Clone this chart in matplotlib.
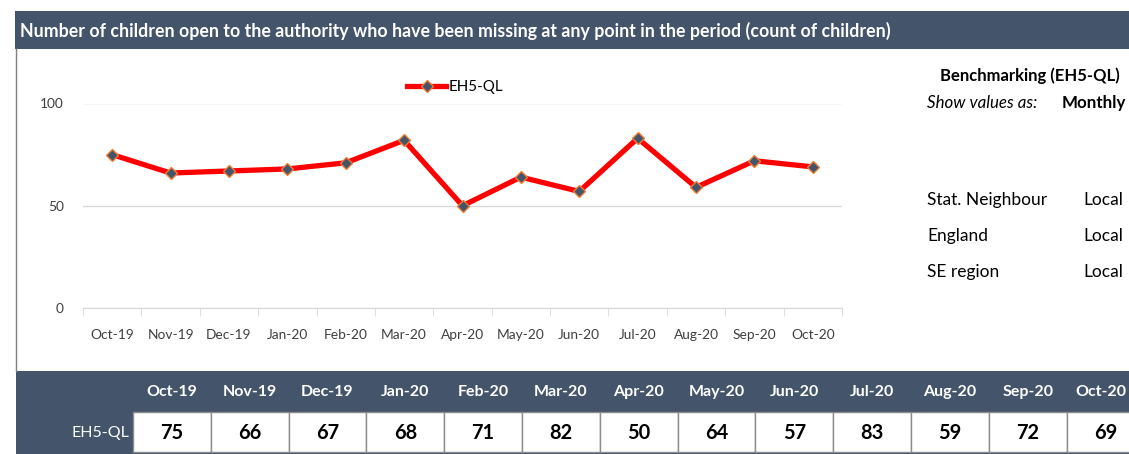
import matplotlib
matplotlib.use('Agg')
import matplotlib.pyplot as plt
from matplotlib.patches import Rectangle
from matplotlib.lines import Line2D

# data
months = ['Oct-19', 'Nov-19', 'Dec-19', 'Jan-20', 'Feb-20', 'Mar-20', 'Apr-20',
          'May-20', 'Jun-20', 'Jul-20', 'Aug-20', 'Sep-20', 'Oct-20']
eh5_ql = [75, 66, 67, 68, 71, 82, 50, 64, 57, 83, 59, 72, 69]
series_name = 'EH5-QL'
title = ('Number of children open to the authority who have been missing at any '
         'point in the period (count of children)')
bench_title = 'Benchmarking (EH5-QL)'
bench_rows = ['Stat. Neighbour', 'England', 'SE region']
bench_vals = ['Local', 'Local', 'Local']

plt.rcParams['font.family'] = ['Lato', 'DejaVu Sans']

W, H = 1129, 454
navy = '#44546A'

def fx(x):
    return x / W

def fy(y):
    return 1 - y / H

fig = plt.figure(figsize=(W / 100, H / 100), dpi=100)
fig.patch.set_facecolor('white')
renderer = fig.canvas.get_renderer()

# font size that makes a sample string a given width in pixels
def size_for(sample, target, **kw):
    t = fig.text(0, 0, sample, fontsize=10, **kw)
    w = t.get_window_extent(renderer).width
    t.remove()
    return 10 * target / w

# keep a text inside the right edge of the figure
def keep_inside(t, right=W - 3):
    bb = t.get_window_extent(renderer)
    if bb.x1 > right:
        xx, yy = t.get_position()
        t.set_position((xx - (bb.x1 - right) / W, yy))

fs_title = size_for(title, 867, fontweight='bold')
fs_head = size_for('Oct-19', 51, fontweight='bold')
fs_val = size_for('75', 23, fontweight='bold')
fs_rowlab = size_for('EH5-QL', 57)
fs_tick = size_for('Aug-20', 45)
fs_leg = size_for('EH5-QL', 54)
fs_bench = size_for(bench_title, 180, fontweight='bold')
fs_show = size_for('Show values as:', 110, style='italic')
fs_rows = size_for('Stat. Neighbour', 120)

# title bar
fig.add_artist(Rectangle((fx(15), fy(49)), 1 - fx(15), (49 - 11) / H,
                         transform=fig.transFigure, facecolor=navy, edgecolor='none'))
fig.text(fx(20), fy(31), title, color='white', fontsize=fs_title, fontweight='bold',
         va='center', ha='left')

# left border of chart area
fig.add_artist(Line2D([fx(16), fx(16)], [fy(49), fy(371)], transform=fig.transFigure,
                      color='#7F7F7F', lw=1))

# chart
ax = fig.add_axes([fx(83), fy(308), (842 - 83) / W, (308 - 103.5) / H])
x = list(range(len(months)))
ax.plot(x, eh5_ql, color='#FF0000', lw=3.8, marker='D', markersize=6.5,
        markerfacecolor=navy, markeredgecolor='#ED7D31', markeredgewidth=1.0,
        label=series_name, zorder=3)
ax.set_xlim(-0.5, len(months) - 0.5)
ax.set_ylim(0, 100)
ax.set_yticks([0, 50, 100])
ax.set_xticks(x)
ax.set_xticklabels(months)
ax.set_xticks([i - 0.5 for i in range(len(months) + 1)], minor=True)
ax.grid(axis='y', color='#D9D9D9', lw=1)
ax.set_axisbelow(True)
for s in ['top', 'right', 'left']:
    ax.spines[s].set_visible(False)
ax.spines['bottom'].set_color('#D9D9D9')
ax.tick_params(axis='x', which='major', length=0, pad=15, labelsize=fs_tick, labelcolor='#404040')
ax.tick_params(axis='x', which='minor', length=6, color='#D9D9D9')
ax.tick_params(axis='y', length=0, pad=14, labelsize=fs_tick, labelcolor='#404040')
ax.legend(loc='center', bbox_to_anchor=(fx(455), fy(87)), bbox_transform=fig.transFigure,
          frameon=False, fontsize=fs_leg, handlelength=2.6, handletextpad=0.15)

# benchmarking panel
fig.text(fx(940), fy(76), bench_title, fontsize=fs_bench, fontweight='bold',
         va='center', ha='left')
fig.text(fx(927), fy(103), 'Show values as:', fontsize=fs_show, style='italic',
         va='center', ha='left')
t = fig.text(fx(1097), fy(103), 'Monthly', fontsize=fs_show, fontweight='bold',
             va='center', ha='left')
keep_inside(t)
for i, (lab, val) in enumerate(zip(bench_rows, bench_vals)):
    yy = 200 + i * 36
    fig.text(fx(927), fy(yy), lab, fontsize=fs_rows, va='center', ha='left')
    fig.text(fx(1083), fy(yy), val, fontsize=fs_rows, va='center', ha='left')

# table underneath
fig.add_artist(Rectangle((fx(16), 0), 1 - fx(16), (H - 371) / H,
                         transform=fig.transFigure, facecolor=navy, edgecolor='none'))
cw = 77.8
for i, (m, v) in enumerate(zip(months, eh5_ql)):
    x0 = 133 + i * cw
    fig.add_artist(Rectangle((fx(x0), fy(452)), cw / W, (452 - 412) / H,
                             transform=fig.transFigure, facecolor='white',
                             edgecolor='#8C8C8C', lw=1))
    t = fig.text(fx(x0 + cw / 2), fy(392), m, color='white', fontsize=fs_head,
                 fontweight='bold', ha='center', va='center')
    keep_inside(t)
    fig.text(fx(x0 + cw / 2), fy(433), str(v), color='black', fontsize=fs_val,
             fontweight='bold', ha='center', va='center')
fig.text(fx(129), fy(433), series_name, color='white', fontsize=fs_rowlab,
         ha='right', va='center')

fig.savefig('out.png', dpi=100)
